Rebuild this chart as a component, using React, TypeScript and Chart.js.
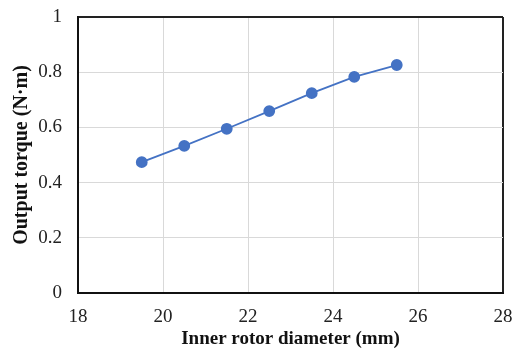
import React, { useEffect, useRef } from "react";
import { Chart, registerables } from "chart.js";

Chart.register(...registerables);

const diameters = [19.5, 20.5, 21.5, 22.5, 23.5, 24.5, 25.5];
const torques = [0.474, 0.533, 0.595, 0.659, 0.724, 0.783, 0.826];
const xTitle = "Inner rotor diameter (mm)";
const yTitle = "Output torque (N·m)";

const zeroPad = (s: any) => {
  s.paddingTop = 0;
  s.paddingBottom = 0;
  s.paddingLeft = 0;
  s.paddingRight = 0;
};

export default function App() {
  const ref = useRef<HTMLCanvasElement | null>(null);
  useEffect(() => {
    if (!ref.current) return;
    const chart = new Chart(ref.current, {
      type: "scatter",
      data: {
        datasets: [
          {
            data: diameters.map((x, i) => ({ x, y: torques[i] })),
            showLine: true,
            borderColor: "#4472C4",
            backgroundColor: "#4472C4",
            borderWidth: 1.8,
            pointRadius: 5,
            pointHoverRadius: 5,
          },
        ],
      },
      options: {
        responsive: false,
        animation: false,
        layout: { padding: { left: 0, right: 11, top: 17, bottom: 0 } },
        plugins: { legend: { display: false }, tooltip: { enabled: false } },
        scales: {
          x: {
            type: "linear",
            min: 18,
            max: 28,
            ticks: {
              stepSize: 2,
              padding: 13,
              color: "#222",
              font: { family: "'Liberation Serif', 'Times New Roman', serif", size: 19 },
            },
            grid: {
              drawTicks: false,
              color: (c: any) => (c.tick && c.tick.value === 28 ? "#222" : "#d9d9d9"),
              lineWidth: (c: any) => (c.tick && c.tick.value === 28 ? 2 : 1),
            },
            border: { color: "#111", width: 2 },
            title: {
              display: true,
              text: xTitle,
              color: "#111",
              padding: 0,
              font: { family: "'Liberation Serif', 'Times New Roman', serif", size: 19, weight: "bold", lineHeight: 1 },
            },
            afterFit: (s: any) => {
              s.height = 56;
              zeroPad(s);
            },
          },
          y: {
            min: 0,
            max: 1,
            ticks: {
              stepSize: 0.2,
              padding: 16,
              color: "#222",
              callback: (v: any) => String(Number(Number(v).toFixed(1))),
              font: { family: "'Liberation Serif', 'Times New Roman', serif", size: 19 },
            },
            grid: {
              drawTicks: false,
              color: (c: any) => (c.tick && c.tick.value === 1 ? "#222" : "#d9d9d9"),
              lineWidth: (c: any) => (c.tick && c.tick.value === 1 ? 2 : 1),
            },
            border: { color: "#111", width: 2 },
            title: {
              display: true,
              text: yTitle,
              color: "#111",
              padding: { top: 12, bottom: 0 },
              font: { family: "'Liberation Serif', 'Times New Roman', serif", size: 20, weight: "bold", lineHeight: 1 },
            },
            afterFit: (s: any) => {
              s.width = 78;
              zeroPad(s);
            },
          },
        },
      },
    });
    return () => chart.destroy();
  }, []);
  return (
    <div style={{ position: "fixed", left: 0, top: 0, width: 514, height: 349, background: "#fff" }}>
      <canvas ref={ref} width={514} height={349} />
    </div>
  );
}
